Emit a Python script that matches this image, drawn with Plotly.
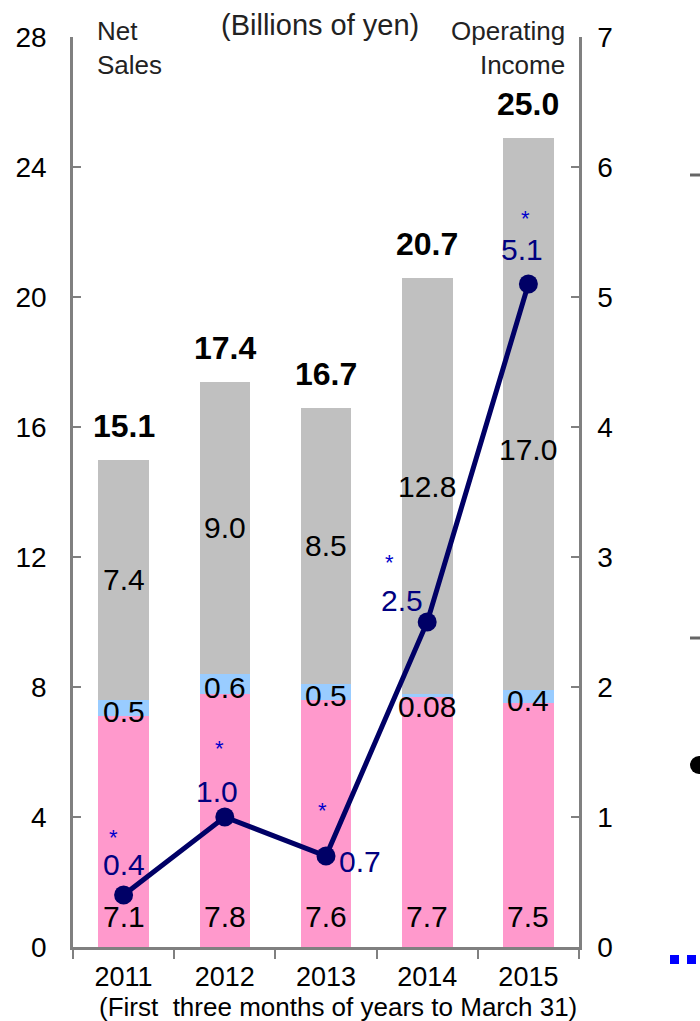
import plotly.graph_objects as go

# Net sales breakdown (billions of yen), first three months of each fiscal year
years = ["2011", "2012", "2013", "2014", "2015"]
sales_pink = [7.1, 7.8, 7.6, 7.7, 7.5]
sales_blue = [0.5, 0.6, 0.5, 0.08, 0.4]
sales_gray = [7.4, 9.0, 8.5, 12.8, 17.0]
net_sales_total = ["15.1", "17.4", "16.7", "20.7", "25.0"]
operating_income = [0.4, 1.0, 0.7, 2.5, 5.1]

FONT = "Liberation Sans, Arial, sans-serif"
PINK = "#FF99CC"
BLUE = "#99CCFF"
GRAY = "#C0C0C0"
NAVY = "#000066"
AXIS = "#808080"

W, H = 700, 1021
L, R, T, B = 73, 579, 37, 947

xpos = list(range(len(years)))


def px(x):
    return (x - L) / (R - L)


def py(y):
    return (B - y) / (B - T)


fig = go.Figure()
for vals, col in [(sales_pink, PINK), (sales_blue, BLUE), (sales_gray, GRAY)]:
    fig.add_trace(go.Bar(x=xpos, y=vals, marker=dict(color=col, line=dict(width=0)),
                         showlegend=False, hoverinfo="skip"))

fig.add_trace(go.Scatter(x=xpos, y=operating_income, yaxis="y2", mode="lines+markers",
                         line=dict(color=NAVY, width=5),
                         marker=dict(color=NAVY, size=19), showlegend=False))

LBL = 30
ann = []
# segment labels
for i in xpos:
    p, b, g = sales_pink[i], sales_blue[i], sales_gray[i]
    ann.append(dict(x=i, y=0, yshift=31, text=f"{p:.1f}", showarrow=False,
                    font=dict(size=LBL, color="black")))
    blab = f"{b:.2f}" if b < 0.1 else f"{b:.1f}"
    by = p + b / 2 - 0.1 if b >= 0.2 else p - 0.3
    ann.append(dict(x=i, y=by, text=blab, showarrow=False, font=dict(size=LBL, color="black")))
    gy = p + b + g / 2
    if i == len(years) - 1:
        gy -= 1.1
    ann.append(dict(x=i, y=gy, text=f"{g:.1f}", showarrow=False, font=dict(size=LBL, color="black")))
    ann.append(dict(x=i, y=p + b + g, yanchor="bottom", yshift=14, text=f"<b>{net_sales_total[i]}</b>",
                    showarrow=False, font=dict(size=32, color="black")))

# operating income labels (pixel offsets from each point)
oi_offsets = [(0, 31), (-8, 26), (34, -5), (-25, 22), (-6, 35)]
star_offsets = [(-10, 58), (-5, 69), (-4, 46), (-38, 60), (-3, 66)]
for i in xpos:
    dx, dy = oi_offsets[i]
    ann.append(dict(x=i, y=operating_income[i], yref="y2", xshift=dx, yshift=dy,
                    text=f"{operating_income[i]:.1f}", showarrow=False,
                    font=dict(size=LBL, color="#000080")))
    sx, sy = star_offsets[i]
    ann.append(dict(x=i, y=operating_income[i], yref="y2", xshift=sx, yshift=sy,
                    text="*", showarrow=False, font=dict(size=22, color="#0000CC")))

# headers
ann += [
    dict(xref="paper", yref="paper", x=px(95), y=py(14), xanchor="left", yanchor="top",
         text="Net<br>Sales", align="left", showarrow=False, font=dict(size=26, color="#222")),
    dict(xref="paper", yref="paper", x=px(320), y=py(7), xanchor="center", yanchor="top",
         text="(Billions of yen)", showarrow=False, font=dict(size=29, color="#222")),
    dict(xref="paper", yref="paper", x=px(567), y=py(14), xanchor="right", yanchor="top",
         text="Operating<br>Income", align="right", showarrow=False, font=dict(size=26, color="#222")),
    dict(xref="paper", yref="paper", x=px(338), y=py(1024), xanchor="center", yanchor="bottom",
         text="(First  three months of years to March 31)", showarrow=False,
         font=dict(size=26, color="black")),
]

# side legend fragments
shapes = [
    dict(type="line", xref="paper", yref="paper", x0=px(690), x1=px(700), y0=py(175), y1=py(175),
         line=dict(color="#666", width=3)),
    dict(type="line", xref="paper", yref="paper", x0=px(690), x1=px(700), y0=py(638), y1=py(638),
         line=dict(color="#666", width=3)),
    dict(type="circle", xref="paper", yref="paper", x0=px(690), x1=px(708), y0=py(756), y1=py(774),
         fillcolor="black", line=dict(width=0)),
    dict(type="rect", xref="paper", yref="paper", x0=px(670), x1=px(679), y0=py(955), y1=py(964),
         fillcolor="#0000FF", line=dict(width=0)),
    dict(type="rect", xref="paper", yref="paper", x0=px(687), x1=px(696), y0=py(955), y1=py(964),
         fillcolor="#0000FF", line=dict(width=0)),
]

fig.update_layout(
    width=W, height=H, barmode="stack", bargap=0.5,
    margin=dict(l=L, r=W - R, t=T, b=H - B),
    paper_bgcolor="white", plot_bgcolor="white",
    font=dict(family=FONT, color="black"),
    annotations=ann, shapes=shapes,
    xaxis=dict(range=[-0.5, len(years) - 0.5], tickvals=xpos, ticktext=years,
               showline=True, linecolor=AXIS, linewidth=2.5, ticks="",
               minor=dict(tickvals=[i - 0.5 for i in range(len(years) + 1)], ticks="outside",
                          ticklen=9, tickcolor=AXIS, tickwidth=2, showgrid=False),
               tickfont=dict(size=27, color="black"), showgrid=False, zeroline=False,
               ticklabelstandoff=4),
    yaxis=dict(range=[0, 28], tickvals=[0, 4, 8, 12, 16, 20, 24, 28], showline=True,
               linecolor=AXIS, linewidth=2.5, ticks="inside", ticklen=8, tickcolor=AXIS,
               tickwidth=2, tickfont=dict(size=28, color="black"), showgrid=False,
               zeroline=False, ticklabelstandoff=18),
    yaxis2=dict(range=[0, 7], tickvals=list(range(8)), overlaying="y", side="right",
                showline=True, linecolor=AXIS, linewidth=2.5, ticks="inside", ticklen=8,
                tickcolor=AXIS, tickwidth=2, tickfont=dict(size=28, color="black"),
                showgrid=False, zeroline=False, ticklabelstandoff=10),
)

fig.write_html("out.html")
